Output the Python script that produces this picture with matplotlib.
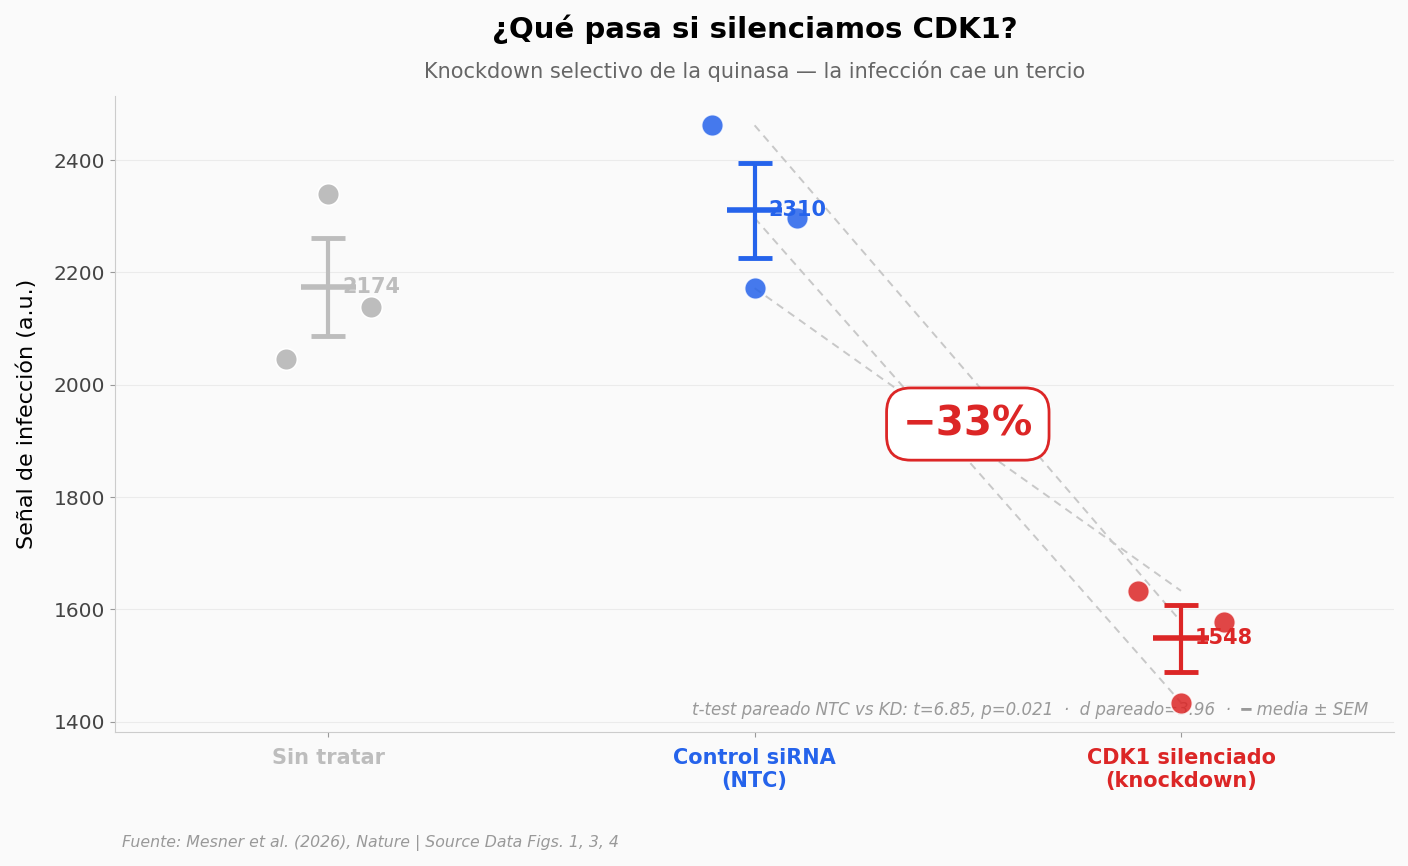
import numpy as np
import matplotlib.pyplot as plt

groups = ['Sin tratar', 'Control siRNA\n(NTC)', 'CDK1 silenciado\n(knockdown)']
colors = ['#bdbdbd', '#2563eb', '#dc2626']
# points in left / centre / right jitter order
sin_tratar = [2045, 2340, 2138]
ntc = [2462, 2172, 2297]
kd = [1633, 1434, 1578]
# pairs NTC -> KD
pair_ntc = [2462, 2297, 2172]
pair_kd = [1578, 1434, 1633]
jitter = [-0.1, 0.0, 0.1]

data = [sin_tratar, ntc, kd]

plt.rcParams['font.family'] = ['DejaVu Sans']
fig = plt.figure(figsize=(14.08, 8.66), dpi=100, facecolor='#fafafa')
ax = fig.add_axes([0.0817, 0.155, 0.9085, 0.734])
ax.set_facecolor('#fafafa')

for a, b in zip(pair_ntc, pair_kd):
    ax.plot([1, 2], [a, b], ls=(0, (4, 3)), color='#c8c8c8', lw=1.4, zorder=1)

for i, vals in enumerate(data):
    vals = np.array(vals, dtype=float)
    alpha = 1.0 if i == 0 else 0.85
    ax.scatter([i + j for j in jitter], vals, s=245, color=colors[i], alpha=alpha,
               edgecolor='white', linewidth=1.2, zorder=4)
    m = vals.mean()
    sem = vals.std(ddof=1) / np.sqrt(len(vals))
    ax.errorbar(i, m, yerr=sem, color=colors[i], lw=3, capsize=12, capthick=3.5, zorder=3)
    ax.hlines(m, i - 0.065, i + 0.065, color=colors[i], lw=4, zorder=3)
    ax.text(i + 0.033, m, f'{m:.0f}', color=colors[i], fontsize=15, fontweight='bold',
            va='center', ha='left', zorder=5)

ax.text(1.5, 1930, '\u221233%', color='#dc2626', fontsize=29, fontweight='bold',
        ha='center', va='center', zorder=6,
        bbox=dict(boxstyle='round,pad=0.4,rounding_size=0.6', fc='white', ec='#dc2626', lw=2))

ax.set_xlim(-0.5, 2.5)
ax.set_ylim(1382, 2514)
ax.set_xticks([0, 1, 2])
ax.set_yticks([1400, 1600, 1800, 2000, 2200, 2400])
ax.tick_params(axis='x', colors='#999999', pad=8)
ax.tick_params(axis='y', labelsize=14.5, colors='#999999', labelcolor='#444444')
ax.set_xticklabels(groups, fontsize=15, fontweight='bold')
for lbl, c in zip(ax.get_xticklabels(), colors):
    lbl.set_color(c)
ax.set_ylabel('Señal de infección (a.u.)', fontsize=16, labelpad=12)
ax.grid(axis='y', color='#ebebeb', lw=0.8)
ax.set_axisbelow(True)
for s in ['top', 'right']:
    ax.spines[s].set_visible(False)
for s in ['left', 'bottom']:
    ax.spines[s].set_color('#cccccc')

ax.text(0.98, 0.035, 't-test pareado NTC vs KD: t=6.85, p=0.021  ·  d pareado=3.96  ·  \u2501 media ± SEM',
        transform=ax.transAxes, ha='right', va='center', fontsize=12, style='italic', color='#999999')

fig.text(0.536, 0.966, '¿Qué pasa si silenciamos CDK1?', ha='center', va='center',
         fontsize=21, fontweight='bold')
fig.text(0.536, 0.918, 'Knockdown selectivo de la quinasa — la infección cae un tercio', ha='center',
         va='center', fontsize=15, color='#666666')
fig.text(0.087, 0.027, 'Fuente: Mesner et al. (2026), Nature | Source Data Figs. 1, 3, 4',
         ha='left', va='center', fontsize=11.3, style='italic', color='#999999')

plt.savefig('out.png', dpi=100, facecolor='#fafafa')
